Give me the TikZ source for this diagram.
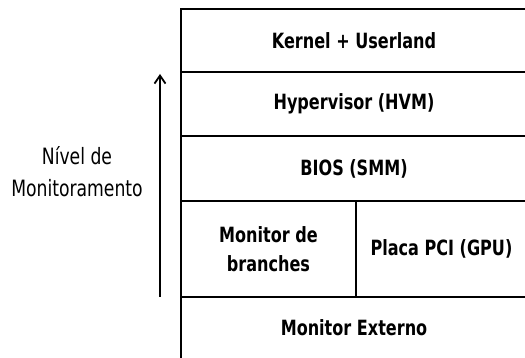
\documentclass[tikz,border=0pt]{standalone}
\usepackage{fontspec}
\setmainfont{DejaVu Sans Condensed}[FakeStretch=0.85]
\usetikzlibrary{positioning,arrows.meta}

\tikzset{
  layer/.style={draw, line width=2pt, outer sep=0pt, inner sep=0pt, font=\bfseries\fontsize{21}{28.5}\selectfont, align=center},
}

\begin{document}
\begin{tikzpicture}[x=1pt,y=1pt]
  \useasboundingbox (0,0) rectangle (525,358);
  \clip (0,0) rectangle (525,358);
  \node[layer, minimum width=346pt, minimum height=63pt, anchor=north west] (kernel) at (181,349) {Kernel + Userland};
  \node[layer, minimum width=346pt, minimum height=64pt, below=0pt of kernel] (hvm) {Hypervisor (HVM)};
  \node[layer, minimum width=346pt, minimum height=65pt, below=0pt of hvm] (bios) {BIOS (SMM)};
  \node[layer, minimum width=175pt, minimum height=96pt, below=0pt of bios.south west, anchor=north west] (branches) {Monitor de\\branches};
  \node[layer, minimum width=171pt, minimum height=96pt, right=0pt of branches] (pci) {Placa PCI (GPU)};
  \node[layer, minimum width=346pt, minimum height=62pt, below=0pt of branches.south west, anchor=north west] (externo) {Monitor Externo};
  \node[font=\fontsize{22.5}{32}\selectfont, align=center] (nivel) at (77,186) {Nível de\\Monitoramento};
  \draw[-{Straight Barb[length=8pt,width=11pt]}, line width=1.8pt] ([xshift=-21pt]externo.north west) -- ([xshift=-21pt,yshift=-2pt]kernel.south west);
\end{tikzpicture}
\end{document}
